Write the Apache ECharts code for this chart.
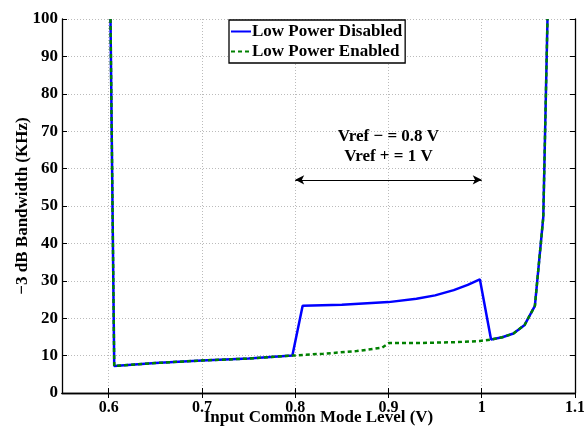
<!DOCTYPE html>
<html><head><meta charset="utf-8">
<script src="https://cdn.jsdelivr.net/npm/echarts@6/dist/echarts.min.js"></script>
<style>html,body{margin:0;padding:0;background:#fff}#c{width:584px;height:427px}</style>
</head><body><div id="c"></div>
<script>
const xTicks = [0.6, 0.7, 0.8, 0.9, 1.0, 1.1];
const yTicks = [0, 10, 20, 30, 40, 50, 60, 70, 80, 90, 100];
const disabledX = [0.602, 0.606, 0.65, 0.7, 0.75, 0.797, 0.808, 0.85, 0.9, 0.93, 0.95, 0.97, 0.985, 0.998, 1.010, 1.022, 1.034, 1.046, 1.057, 1.066, 1.0705];
const disabledY = [100, 7.2, 8.0, 8.7, 9.2, 10.0, 23.3, 23.6, 24.3, 25.2, 26.1, 27.5, 28.9, 30.4, 14.3, 14.9, 15.9, 18.2, 23.3, 47, 100];
const enabledX = [0.602, 0.606, 0.65, 0.7, 0.75, 0.797, 0.83, 0.866, 0.893, 0.901, 0.937, 0.973, 0.998, 1.010, 1.022, 1.034, 1.046, 1.057, 1.066, 1.0705];
const enabledY = [100, 7.2, 8.0, 8.7, 9.2, 10.0, 10.5, 11.2, 12.1, 13.4, 13.4, 13.6, 13.9, 14.3, 14.9, 15.9, 18.2, 23.3, 47, 100];
const arrowX = [0.8, 1.0];
const arrowY = 57;
const noteText = 'Vref \u2212 = 0.8 V\nVref + = 1 V';

const font = "'Liberation Serif', 'Times New Roman', serif";
const zip = (a, b) => a.map((v, i) => [v, b[i]]);
const chart = echarts.init(document.getElementById('c'), null, {renderer: 'canvas'});
const tickStyle = {show: true, inside: true, length: 5, lineStyle: {color: '#000'}};
chart.setOption({
  animation: false,
  grid: {left: 62, right: 9, top: 19, bottom: 34, outerBoundsMode: 'none', containLabel: false},
  legend: {
    orient: 'vertical', left: 229, top: 20, itemWidth: 20, itemHeight: 10, itemGap: 3,
    padding: [3, 3, 3, 1], borderColor: '#000', borderWidth: 1.3, backgroundColor: '#fff',
    itemStyle: {opacity: 0},
    textStyle: {fontFamily: font, fontWeight: 'bold', fontSize: 17, color: '#000', padding: [0, 0, 0, -4]},
    data: ['Low Power Disabled', 'Low Power Enabled']
  },
  xAxis: [{
    type: 'value', min: 0.55, max: 1.1,
    name: 'Input Common Mode Level (V)', nameLocation: 'middle', nameGap: 16, nameMoveOverlap: false,
    nameTextStyle: {fontFamily: font, fontWeight: 'bold', fontSize: 17, color: '#000'},
    axisLine: {lineStyle: {color: '#000', width: 1.3}},
    axisTick: Object.assign({customValues: xTicks}, tickStyle),
    axisLabel: {customValues: xTicks, fontFamily: font, fontWeight: 'bold', fontSize: 16, color: '#000', margin: 7,
      formatter: v => (Math.round(v * 10) / 10).toString()},
    splitLine: {show: true, lineStyle: {color: '#bbb', type: [1, 2]}}
  }, {
    type: 'value', min: 0.55, max: 1.1, position: 'top',
    axisLine: {show: true, lineStyle: {color: '#000', width: 1.3}},
    axisTick: Object.assign({customValues: xTicks}, tickStyle),
    axisLabel: {show: false}, splitLine: {show: false}
  }],
  yAxis: [{
    type: 'value', min: 0, max: 100, interval: 10,
    name: '\u22123 dB Bandwidth (KHz)', nameLocation: 'middle', nameGap: 31, nameMoveOverlap: false,
    nameTextStyle: {fontFamily: font, fontWeight: 'bold', fontSize: 17, color: '#000'},
    axisLine: {show: true, lineStyle: {color: '#000', width: 1.3}},
    axisTick: tickStyle,
    axisLabel: {fontFamily: font, fontWeight: 'bold', fontSize: 17, color: '#000', margin: 4},
    splitLine: {show: true, lineStyle: {color: '#bbb', type: [1, 2]}}
  }, {
    type: 'value', min: 0, max: 100, interval: 10, position: 'right',
    axisLine: {show: true, lineStyle: {color: '#000', width: 1.3}},
    axisTick: tickStyle, axisLabel: {show: false}, splitLine: {show: false}
  }],
  series: [{
    name: 'Low Power Disabled', type: 'line', symbol: 'none', z: 3,
    data: zip(disabledX, disabledY),
    lineStyle: {color: '#0000ff', width: 2.5}, itemStyle: {color: '#0000ff'},
    markLine: {
      silent: true, symbol: ['arrow', 'arrow'], symbolSize: [7, 9],
      lineStyle: {color: '#000', width: 1.2, type: 'solid'}, label: {show: false},
      data: [[{coord: [arrowX[0], arrowY]}, {coord: [arrowX[1], arrowY]}]]
    }
  }, {
    name: 'Low Power Enabled', type: 'line', symbol: 'none', z: 4,
    data: zip(enabledX, enabledY),
    lineStyle: {color: '#008000', width: 2.5, type: [4, 3]}, itemStyle: {color: '#008000'}
  }]
});
const notePos = chart.convertToPixel({xAxisIndex: 0, yAxisIndex: 0}, [0.9, 70]);
chart.setOption({
  graphic: [{
    type: 'text', x: notePos[0], y: notePos[1] - 5,
    style: {text: noteText, fontFamily: font, fontWeight: 'bold', fontSize: 17,
      fill: '#000', align: 'center', verticalAlign: 'top', lineHeight: 20}
  }]
});
</script></body></html>
